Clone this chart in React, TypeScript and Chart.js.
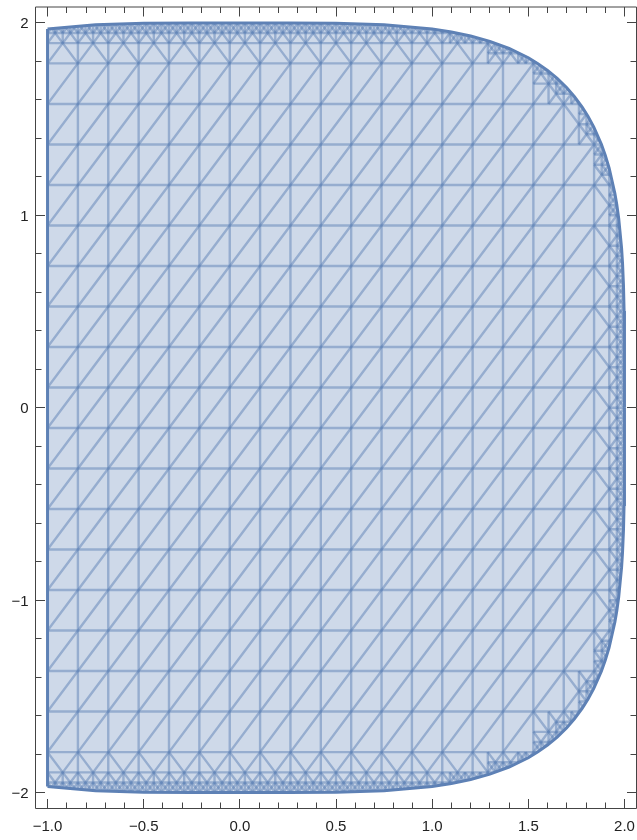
import { useEffect, useRef } from "react";
import { Chart, registerables } from "chart.js";

Chart.register(...registerables);

// Outline of the plotted region: upper edge y at each x (lower edge is its mirror), left side is x = -1.
const edgeX = [-1, -0.75, -0.5, -0.25, 0, 0.25, 0.5, 0.75, 1, 1.1, 1.2, 1.3, 1.4, 1.5, 1.55, 1.6, 1.65, 1.7, 1.74, 1.78, 1.81, 1.84, 1.88, 1.9, 1.92, 1.95, 1.96, 1.97, 1.985, 1.99, 1.995, 1.998, 2];
const edgeTop = [1.968, 1.99, 1.998, 2.0, 2.0, 2.0, 1.998, 1.99, 1.968, 1.953, 1.932, 1.904, 1.867, 1.819, 1.788, 1.753, 1.712, 1.663, 1.617, 1.563, 1.515, 1.46, 1.369, 1.313, 1.246, 1.114, 1.056, 0.984, 0.83, 0.751, 0.632, 0.503, 0];
const edgeBottom = [-1.968, -1.99, -1.998, -2.0, -2.0, -2.0, -1.998, -1.99, -1.968, -1.953, -1.932, -1.904, -1.867, -1.819, -1.788, -1.753, -1.712, -1.663, -1.617, -1.563, -1.515, -1.46, -1.369, -1.313, -1.246, -1.114, -1.056, -0.984, -0.83, -0.751, -0.632, -0.503, 0];

// Sampling grid of the mesh (19 x 19 cells).
const gridX = [-1, -0.8421, -0.6842, -0.5263, -0.3684, -0.2105, -0.0526, 0.1053, 0.2632, 0.4211, 0.5789, 0.7368, 0.8947, 1.0526, 1.2105, 1.3684, 1.5263, 1.6842, 1.8421, 2];
const gridY = [-2, -1.7895, -1.5789, -1.3684, -1.1579, -0.9474, -0.7368, -0.5263, -0.3158, -0.1053, 0.1053, 0.3158, 0.5263, 0.7368, 0.9474, 1.1579, 1.3684, 1.5789, 1.7895, 2];

// Axis ticks.
const xMajorTicks = [-1, -0.5, 0, 0.5, 1, 1.5, 2];
const xTickLabels = ["−1.0", "−0.5", "0.0", "0.5", "1.0", "1.5", "2.0"];
const xMinorTicks = [-0.9, -0.8, -0.7, -0.6, -0.4, -0.3, -0.2, -0.1, 0.1, 0.2, 0.3, 0.4, 0.6, 0.7, 0.8, 0.9, 1.1, 1.2, 1.3, 1.4, 1.6, 1.7, 1.8, 1.9];
const yMajorTicks = [-2, -1, 0, 1, 2];
const yTickLabels = ["−2", "−1", "0", "1", "2"];
const yMinorTicks = [-1.8, -1.6, -1.4, -1.2, -0.8, -0.6, -0.4, -0.2, 0.2, 0.4, 0.6, 0.8, 1.2, 1.4, 1.6, 1.8];

const BLUE = "rgb(94,129,181)";
const FILL = "rgba(94,129,181,0.3)";
const MESH = "rgba(94,129,181,0.5)";
const FRAME = "#444";
const FONT = '15px "Liberation Sans", Arial, sans-serif';
const REFINE_DEPTH = 2;

type Seg = [number, number, number, number];

function interp(xs: number[], ys: number[], x: number): number {
  if (x <= xs[0]) return ys[0];
  for (let i = 1; i < xs.length; i++) {
    if (x <= xs[i]) {
      const t = (x - xs[i - 1]) / (xs[i] - xs[i - 1]);
      return ys[i - 1] + t * (ys[i] - ys[i - 1]);
    }
  }
  return ys[ys.length - 1];
}

function inside(x: number, y: number): boolean {
  if (x < -1 - 1e-9 || x >= 2) return false;
  return y < interp(edgeX, edgeTop, x) && y > interp(edgeX, edgeBottom, x);
}

// Triangulated mesh: plain cells get one diagonal, cells cut by the edge are split recursively.
function buildMesh() {
  const seen = new Set<string>();
  const groups: Record<"v" | "h" | "up" | "down", Seg[]> = { v: [], h: [], up: [], down: [] };
  const add = (ax: number, ay: number, bx: number, by: number) => {
    if (ax > bx || (ax === bx && ay > by)) {
      [ax, bx] = [bx, ax];
      [ay, by] = [by, ay];
    }
    const key = [ax, ay, bx, by].map((v) => v.toFixed(6)).join(",");
    if (seen.has(key)) return;
    seen.add(key);
    const kind = ax === bx ? "v" : ay === by ? "h" : by > ay ? "up" : "down";
    groups[kind].push([ax, ay, bx, by]);
  };
  const count = (x0: number, y0: number, x1: number, y1: number) =>
    [inside(x0, y0), inside(x1, y0), inside(x0, y1), inside(x1, y1)].filter(Boolean).length;

  const refine = (x0: number, y0: number, x1: number, y1: number, level: number) => {
    const xm = (x0 + x1) / 2;
    const ym = (y0 + y1) / 2;
    add(x0, y0, xm, ym);
    add(xm, ym, x1, y1);
    add(x0, y1, xm, ym);
    add(xm, ym, x1, y0);
    if (level >= REFINE_DEPTH) return;
    const quads: Seg[] = [
      [x0, y0, xm, ym],
      [xm, y0, x1, ym],
      [x0, ym, xm, y1],
      [xm, ym, x1, y1],
    ];
    for (const [qx0, qy0, qx1, qy1] of quads) {
      const c = count(qx0, qy0, qx1, qy1);
      if (c === 0 || c === 4) continue;
      add(xm, qy0, xm, qy1);
      add(qx0, ym, qx1, ym);
      refine(qx0, qy0, qx1, qy1, level + 1);
    }
  };

  for (const gx of gridX) add(gx, gridY[0], gx, gridY[gridY.length - 1]);
  for (const gy of gridY) add(gridX[0], gy, gridX[gridX.length - 1], gy);
  for (let i = 0; i < gridX.length - 1; i++) {
    for (let j = 0; j < gridY.length - 1; j++) {
      const x0 = gridX[i], x1 = gridX[i + 1], y0 = gridY[j], y1 = gridY[j + 1];
      const c = count(x0, y0, x1, y1);
      if (c === 4) add(x0, y0, x1, y1);
      else if (c > 0) refine(x0, y0, x1, y1, 0);
    }
  }
  return groups;
}

const toPoints = (segs: Seg[]) =>
  segs.flatMap(([ax, ay, bx, by]) => [
    { x: ax, y: ay },
    { x: bx, y: by },
    { x: bx, y: null as number | null },
  ]);

export default function App() {
  const canvasRef = useRef<HTMLCanvasElement | null>(null);

  useEffect(() => {
    const canvas = canvasRef.current;
    if (!canvas) return;
    const mesh = buildMesh();

    const meshDataset = (label: string, segs: Seg[]) => ({
      label,
      data: toPoints(segs),
      showLine: true,
      spanGaps: false,
      borderColor: MESH,
      borderWidth: 2.4,
      pointRadius: 0,
      fill: false,
    });

    // Clip mesh datasets to the region outline.
    const clipPlugin = {
      id: "regionClip",
      beforeDatasetDraw(chart: any, args: any) {
        if (args.index < 3) return;
        const up = chart.getDatasetMeta(0).data;
        const lo = chart.getDatasetMeta(1).data;
        const ctx = chart.ctx;
        ctx.save();
        ctx.beginPath();
        up.forEach((p: any, i: number) => (i ? ctx.lineTo(p.x, p.y) : ctx.moveTo(p.x, p.y)));
        for (let i = lo.length - 1; i >= 0; i--) ctx.lineTo(lo[i].x, lo[i].y);
        ctx.closePath();
        ctx.clip();
      },
      afterDatasetDraw(chart: any, args: any) {
        if (args.index < 3) return;
        chart.ctx.restore();
      },
    };

    // Frame with inward ticks on all four sides, plus tick labels.
    const framePlugin = {
      id: "frameTicks",
      afterDraw(chart: any) {
        const { ctx, chartArea: a, scales } = chart;
        const xs = scales.x;
        const ys = scales.y;
        const L = a.left - 0.5, R = a.right + 0.5, T = a.top - 0.5, B = a.bottom + 0.5;
        ctx.save();
        ctx.strokeStyle = FRAME;
        ctx.lineWidth = 1;
        ctx.beginPath();
        ctx.rect(L, T, R - L, B - T);
        ctx.stroke();
        const snap = (v: number) => Math.round(v - 0.5) + 0.5;
        const xTick = (v: number, len: number) => {
          const px = snap(xs.getPixelForValue(v));
          ctx.moveTo(px, B);
          ctx.lineTo(px, B - len);
          ctx.moveTo(px, T);
          ctx.lineTo(px, T + len);
        };
        const yTick = (v: number, len: number) => {
          const py = snap(ys.getPixelForValue(v));
          ctx.moveTo(L, py);
          ctx.lineTo(L + len, py);
          ctx.moveTo(R, py);
          ctx.lineTo(R - len, py);
        };
        ctx.beginPath();
        xMajorTicks.forEach((v) => xTick(v, 9.5));
        xMinorTicks.forEach((v) => xTick(v, 6));
        yMajorTicks.forEach((v) => yTick(v, 9.5));
        yMinorTicks.forEach((v) => yTick(v, 6));
        ctx.stroke();

        ctx.fillStyle = "#222";
        ctx.font = FONT;
        ctx.textBaseline = "alphabetic";
        ctx.textAlign = "center";
        xMajorTicks.forEach((v, i) => {
          ctx.fillText(xTickLabels[i], xs.getPixelForValue(v), a.bottom + 22.5);
        });
        ctx.textAlign = "right";
        yMajorTicks.forEach((v, i) => {
          ctx.fillText(yTickLabels[i], a.left - 7.5, ys.getPixelForValue(v) + 5.5);
        });
        ctx.restore();
      },
    };

    const chart = new Chart(canvas, {
      type: "scatter",
      data: {
        datasets: [
          {
            label: "upper",
            data: edgeX.map((x, i) => ({ x, y: edgeTop[i] })),
            showLine: true,
            borderColor: BLUE,
            borderWidth: 3,
            backgroundColor: FILL,
            pointRadius: 0,
            fill: "+1",
          },
          {
            label: "lower",
            data: edgeX.map((x, i) => ({ x, y: edgeBottom[i] })),
            showLine: true,
            borderColor: BLUE,
            borderWidth: 3,
            pointRadius: 0,
            fill: false,
          },
          {
            label: "left",
            data: [
              { x: edgeX[0], y: edgeBottom[0] },
              { x: edgeX[0], y: edgeTop[0] },
            ],
            showLine: true,
            borderColor: BLUE,
            borderWidth: 3,
            pointRadius: 0,
            fill: false,
          },
          meshDataset("vertical", mesh.v),
          meshDataset("horizontal", mesh.h),
          meshDataset("rising", mesh.up),
          meshDataset("falling", mesh.down),
        ] as any,
      },
      options: {
        responsive: false,
        animation: false,
        events: [],
        layout: { padding: { left: 36, top: 7.5, right: 1, bottom: 32 } },
        plugins: {
          legend: { display: false },
          tooltip: { enabled: false },
          filler: { drawTime: "beforeDatasetsDraw" },
        } as any,
        scales: {
          x: { type: "linear", min: -1.06, max: 2.06, display: false },
          y: { type: "linear", min: -2.08, max: 2.08, display: false },
        },
      },
      plugins: [clipPlugin, framePlugin],
    });

    return () => chart.destroy();
  }, []);

  return (
    <div style={{ position: "absolute", left: 0, top: 0, width: 637, height: 840, background: "#fff" }}>
      <canvas ref={canvasRef} width={637} height={840} style={{ display: "block" }} />
    </div>
  );
}
